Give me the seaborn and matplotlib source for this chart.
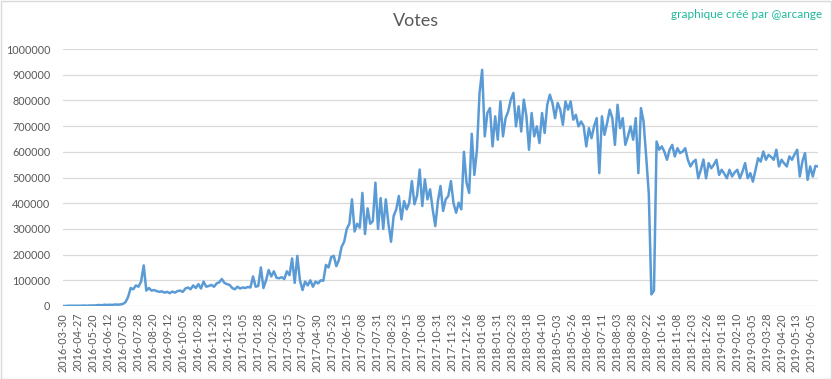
import numpy as np
import pandas as pd
import matplotlib
matplotlib.use("Agg")
import matplotlib.pyplot as plt
from matplotlib.patches import Rectangle
import seaborn as sns

# ---------------- data ----------------
title = "Votes"
credit = "graphique créé par @arcange"

# daily votes (in thousands), read every 4th day of the series
votes_k = [
    0, 0, 1, 1, 1, 1, 1, 1, 2, 1,
    2, 2, 2, 3, 4, 3, 5, 4, 5, 4,
    6, 5, 6, 8, 15, 35, 70, 65, 80, 75,
    95, 158, 60, 70, 60, 62, 58, 55, 57, 52,
    55, 50, 56, 52, 58, 60, 55, 68, 72, 65,
    80, 70, 85, 68, 95, 75, 78, 82, 75, 88,
    92, 105, 90, 85, 82, 70, 65, 75, 68, 72,
    70, 74, 72, 115, 75, 78, 150, 70, 100, 140,
    115, 135, 110, 108, 112, 105, 135, 120, 185, 90,
    195, 100, 62, 95, 80, 100, 75, 95, 88, 100,
    98, 160, 150, 190, 195, 155, 180, 230, 250, 300,
    320, 415, 290, 320, 305, 440, 280, 380, 320, 330,
    480, 300, 420, 300, 415, 320, 250, 350, 376, 428,
    337, 408, 376, 402, 486, 396, 430, 531, 389, 493,
    415, 454, 376, 311, 408, 467, 370, 415, 428, 486,
    400, 363, 402, 376, 600, 480, 440, 670, 510, 608,
    829, 919, 660, 751, 770, 621, 738, 647, 796, 660,
    731, 757, 803, 829, 699, 777, 679, 803, 738, 608,
    751, 660, 699, 634, 751, 673, 783, 822, 790, 731,
    790, 764, 705, 796, 764, 796, 725, 744, 699, 718,
    700, 621, 692, 653, 700, 731, 517, 738, 666, 712,
    764, 731, 627, 783, 692, 731, 627, 660, 699, 647,
    731, 517, 770, 718, 582, 439, 45, 60, 640, 608,
    621, 600, 569, 608, 627, 582, 614, 595, 601, 614,
    569, 543, 560, 569, 497, 530, 570, 497, 556, 536,
    550, 569, 510, 530, 515, 497, 530, 504, 520, 530,
    497, 523, 556, 497, 517, 484, 530, 575, 562, 601,
    569, 588, 580, 569, 608, 543, 569, 555, 543, 582,
    569, 590, 608, 504, 562, 595, 491, 543, 504, 545,
    543,
]

tick_labels = [
    "2016-03-30", "2016-04-27", "2016-05-20", "2016-06-12", "2016-07-05",
    "2016-07-28", "2016-08-20", "2016-09-12", "2016-10-05", "2016-10-28",
    "2016-11-20", "2016-12-13", "2017-01-05", "2017-01-28", "2017-02-20",
    "2017-03-15", "2017-04-07", "2017-04-30", "2017-05-23", "2017-06-15",
    "2017-07-08", "2017-07-31", "2017-08-23", "2017-09-15", "2017-10-08",
    "2017-10-31", "2017-11-23", "2017-12-16", "2018-01-08", "2018-01-31",
    "2018-02-23", "2018-03-18", "2018-04-10", "2018-05-03", "2018-05-26",
    "2018-06-18", "2018-07-11", "2018-08-03", "2018-08-28", "2018-09-22",
    "2018-10-16", "2018-11-08", "2018-12-03", "2018-12-26", "2019-01-18",
    "2019-02-10", "2019-03-05", "2019-03-28", "2019-04-20", "2019-05-13",
    "2019-06-05",
]
y_ticks = [0, 100000, 200000, 300000, 400000, 500000,
           600000, 700000, 800000, 900000, 1000000]

SAMPLE_STEP = 4      # categories between two stored values
TICK_STEP = 23       # categories between two tick labels

# ---------------- style ----------------
sns.set_theme(style="white")
plt.rcParams["font.family"] = ["Lato", "DejaVu Sans"]

LINE = "#5B9BD5"
GRID = "#D9D9D9"
TEXT = "#595959"

df = pd.DataFrame({
    "pos": np.arange(len(votes_k)) * SAMPLE_STEP,
    "votes": np.array(votes_k) * 1000,
})

W, H = 832, 379
fig = plt.figure(figsize=(W / 100, H / 100), dpi=100)
fig.patch.set_facecolor("white")
ax = fig.add_axes([63 / W, 1 - 306 / H, (818 - 63) / W, (306 - 49) / H])

sns.lineplot(data=df, x="pos", y="votes", ax=ax, color=LINE, linewidth=1.8)

ax.set_xlim(0, df["pos"].iloc[-1])
ax.set_ylim(0, 1000000)
ax.set_yticks(y_ticks)
ax.set_yticklabels([str(v) for v in y_ticks])
ax.set_xticks(np.arange(len(tick_labels)) * TICK_STEP)
ax.set_xticklabels(tick_labels, rotation=90)
ax.tick_params(axis="both", length=0, labelsize=7.8, colors=TEXT)
ax.tick_params(axis="y", pad=9)
ax.tick_params(axis="x", pad=5)
ax.set_xlabel("")
ax.set_ylabel("")
ax.yaxis.grid(True, color=GRID, linewidth=0.9)
ax.xaxis.grid(False)
ax.set_axisbelow(True)
for s in ax.spines.values():
    s.set_visible(False)

fig.text(0.5, 1 - 21 / H, title, ha="center", va="center",
         fontsize=13, color=TEXT)
fig.text(822 / W, 1 - 15 / H, credit, ha="right", va="center",
         fontsize=8.5, color="#1FB99B")

fig.add_artist(Rectangle((0.5 / W, 0.5 / H), 1 - 1.5 / W, 1 - 1.5 / H,
                         transform=fig.transFigure, fill=False,
                         edgecolor=GRID, linewidth=1))

fig.savefig("out.png", dpi=100, facecolor="white")
